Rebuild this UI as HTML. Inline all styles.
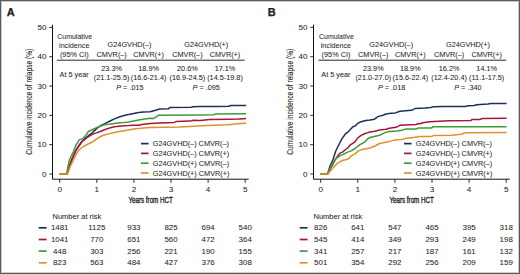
<!DOCTYPE html>
<html><head><meta charset="utf-8"><style>
html,body{margin:0;padding:0;background:#fff;}
body{width:520px;height:274px;overflow:hidden;position:relative;}
svg{position:absolute;left:0;top:0;font-family:"Liberation Sans",sans-serif;}
text{fill:#262626;}
.frame{position:absolute;left:0;top:0;width:520px;height:274px;box-sizing:border-box;border:1px solid #585858;box-shadow:inset 0 0 0 1px #cdcdcd;}
</style></head><body>
<svg width="520" height="274" viewBox="0 0 520 274">
<g transform="translate(0,0)">
<text x="6.8" y="15.9" font-size="11" font-weight="bold" fill="#000" stroke="#000" stroke-width="0.25">A</text>
<path d="M52.5 24.8 V179.2 H248.7" fill="none" stroke="#111" stroke-width="1"/>
<path d="M49.3 174.00 H52.5" stroke="#111" stroke-width="0.9"/>
<text x="46.40" y="176.60" text-anchor="end" font-size="8.1" stroke="#262626" stroke-width="0.05" >0</text>
<path d="M49.3 144.68 H52.5" stroke="#111" stroke-width="0.9"/>
<text x="46.40" y="147.28" text-anchor="end" font-size="8.1" stroke="#262626" stroke-width="0.05" >10</text>
<path d="M49.3 115.36 H52.5" stroke="#111" stroke-width="0.9"/>
<text x="46.40" y="117.96" text-anchor="end" font-size="8.1" stroke="#262626" stroke-width="0.05" >20</text>
<path d="M49.3 86.04 H52.5" stroke="#111" stroke-width="0.9"/>
<text x="46.40" y="88.64" text-anchor="end" font-size="8.1" stroke="#262626" stroke-width="0.05" >30</text>
<path d="M49.3 56.72 H52.5" stroke="#111" stroke-width="0.9"/>
<text x="46.40" y="59.32" text-anchor="end" font-size="8.1" stroke="#262626" stroke-width="0.05" >40</text>
<path d="M49.3 27.40 H52.5" stroke="#111" stroke-width="0.9"/>
<text x="46.40" y="30.00" text-anchor="end" font-size="8.1" stroke="#262626" stroke-width="0.05" >50</text>
<path d="M59.70 179.2 V182.8" stroke="#111" stroke-width="0.9"/>
<text x="59.70" y="191.80" text-anchor="middle" font-size="8.1" stroke="#262626" stroke-width="0.05" >0</text>
<path d="M96.80 179.2 V182.8" stroke="#111" stroke-width="0.9"/>
<text x="96.80" y="191.80" text-anchor="middle" font-size="8.1" stroke="#262626" stroke-width="0.05" >1</text>
<path d="M133.90 179.2 V182.8" stroke="#111" stroke-width="0.9"/>
<text x="133.90" y="191.80" text-anchor="middle" font-size="8.1" stroke="#262626" stroke-width="0.05" >2</text>
<path d="M171.00 179.2 V182.8" stroke="#111" stroke-width="0.9"/>
<text x="171.00" y="191.80" text-anchor="middle" font-size="8.1" stroke="#262626" stroke-width="0.05" >3</text>
<path d="M208.10 179.2 V182.8" stroke="#111" stroke-width="0.9"/>
<text x="208.10" y="191.80" text-anchor="middle" font-size="8.1" stroke="#262626" stroke-width="0.05" >4</text>
<path d="M245.20 179.2 V182.8" stroke="#111" stroke-width="0.9"/>
<text x="245.20" y="191.80" text-anchor="middle" font-size="8.1" stroke="#262626" stroke-width="0.05" >5</text>
<text transform="translate(150.6,202.9) scale(0.735,1)" text-anchor="middle" font-size="8.5" stroke="#222" stroke-width="0.35">Years from HCT</text>
<text transform="translate(32.2,101.7) rotate(-90) scale(0.80,1)" text-anchor="middle" font-size="8.3" stroke="#222" stroke-width="0.08">Cumulative incidence of relapse (%)</text>
<g transform="translate(0,0)">
<g transform="translate(74.7,0) scale(0.955,1)"><text x="0.00" y="39.50" text-anchor="middle" font-size="7.3" stroke="#262626" stroke-width="0.05" >Cumulative</text></g>
<g transform="translate(74.2,0) scale(0.985,1)"><text x="0.00" y="48.00" text-anchor="middle" font-size="7.3" stroke="#262626" stroke-width="0.05" >incidence</text></g>
<text x="74.30" y="56.60" text-anchor="middle" font-size="7.3" stroke="#262626" stroke-width="0.05" >(95% CI)</text>
<text x="129.50" y="46.60" text-anchor="middle" font-size="7.3" stroke="#262626" stroke-width="0.05" >G24GVHD(–)</text>
<text x="206.30" y="46.60" text-anchor="middle" font-size="7.3" stroke="#262626" stroke-width="0.05" >G24GVHD(+)</text>
<text x="111.60" y="56.60" text-anchor="middle" font-size="7.3" stroke="#262626" stroke-width="0.05" >CMVR(–)</text>
<text x="148.60" y="56.60" text-anchor="middle" font-size="7.3" stroke="#262626" stroke-width="0.05" >CMVR(+)</text>
<text x="187.40" y="56.60" text-anchor="middle" font-size="7.3" stroke="#262626" stroke-width="0.05" >CMVR(–)</text>
<text x="225.00" y="56.60" text-anchor="middle" font-size="7.3" stroke="#262626" stroke-width="0.05" >CMVR(+)</text>
<path d="M56.8 60.2 H244.6" stroke="#111" stroke-width="0.9"/>
<text x="74.20" y="76.50" text-anchor="middle" font-size="7.3" stroke="#262626" stroke-width="0.05" >At 5 year</text>
<text x="111.60" y="71.40" text-anchor="middle" font-size="7.3" stroke="#262626" stroke-width="0.05" >23.3%</text>
<text x="111.60" y="80.00" text-anchor="middle" font-size="7.3" stroke="#262626" stroke-width="0.05" >(21.1-25.5)</text>
<text x="148.60" y="71.40" text-anchor="middle" font-size="7.3" stroke="#262626" stroke-width="0.05" >18.9%</text>
<text x="148.60" y="80.00" text-anchor="middle" font-size="7.3" stroke="#262626" stroke-width="0.05" >(16.6-21.4)</text>
<text x="187.40" y="71.40" text-anchor="middle" font-size="7.3" stroke="#262626" stroke-width="0.05" >20.6%</text>
<text x="187.40" y="80.00" text-anchor="middle" font-size="7.3" stroke="#262626" stroke-width="0.05" >(16.9-24.5)</text>
<text x="225.00" y="71.40" text-anchor="middle" font-size="7.3" stroke="#262626" stroke-width="0.05" >17.1%</text>
<text x="225.00" y="80.00" text-anchor="middle" font-size="7.3" stroke="#262626" stroke-width="0.05" >(14.5-19.8)</text>
<text x="129.90" y="90.30" text-anchor="middle" font-size="7.3" stroke="#262626" stroke-width="0.05" ><tspan font-style="italic">P</tspan> = .015</text>
<text x="206.20" y="90.30" text-anchor="middle" font-size="7.3" stroke="#262626" stroke-width="0.05" ><tspan font-style="italic">P</tspan> = .095</text>
</g>
<path d="M59.7 174.0 L67.0 174.0 L69.5 165.5 L71.6 160.0 L75.8 150.3 L78.9 145.5 L82.0 141.3 L85.6 138.1 L88.9 135.3 L91.8 133.2 L96.0 129.1 L100.0 126.0 L104.8 123.6 L109.6 121.3 L114.4 118.9 L119.2 117.0 L124.0 115.5 L128.8 114.6 L133.7 113.5 L138.5 112.6 L143.3 112.1 L150.0 111.7 L154.8 110.5 L159.6 109.0 L168.3 108.8 L169.8 107.6 L191.7 107.3 L192.5 106.7 L200.0 106.5 L219.2 106.5 L228.8 106.2 L230.8 105.5 L246.2 105.5" fill="none" stroke="#1e3059" stroke-width="1.5" stroke-linejoin="round"/>
<path d="M59.7 174.0 L67.0 174.0 L69.5 166.0 L71.6 160.4 L75.8 150.8 L78.9 146.0 L82.0 141.8 L85.6 138.7 L88.9 136.3 L92.8 134.1 L96.6 132.9 L100.5 131.5 L104.3 129.8 L109.6 128.0 L114.4 126.7 L119.2 126.2 L124.0 125.7 L128.8 125.6 L133.7 125.2 L138.5 125.2 L143.3 124.2 L150.0 123.6 L159.6 122.9 L174.0 122.4 L176.0 121.6 L190.4 121.1 L193.3 120.3 L200.0 120.5 L202.9 120.2 L209.6 119.6 L228.8 119.2 L238.5 119.0 L243.3 118.7 L246.2 118.5" fill="none" stroke="#a8143a" stroke-width="1.5" stroke-linejoin="round"/>
<path d="M59.7 174.0 L66.5 174.0 L69.4 160.0 L73.5 151.5 L76.2 144.6 L79.3 139.9 L82.7 138.6 L85.6 135.7 L88.4 131.5 L92.8 129.5 L96.6 127.8 L100.5 126.0 L104.3 124.7 L109.6 124.2 L114.4 123.5 L119.2 122.8 L124.0 122.5 L128.8 122.0 L133.7 120.9 L138.5 119.9 L143.3 119.2 L150.0 118.3 L153.8 118.4 L155.8 117.2 L158.7 115.2 L200.0 114.9 L213.5 114.8 L215.9 113.9 L246.2 113.7" fill="none" stroke="#3d9a3a" stroke-width="1.5" stroke-linejoin="round"/>
<path d="M59.7 174.0 L67.5 174.0 L70.5 166.0 L73.2 160.5 L75.5 155.6 L77.5 151.8 L80.0 149.0 L83.5 146.5 L87.4 144.3 L91.2 142.7 L92.8 141.9 L96.6 138.9 L100.5 136.5 L104.3 135.0 L108.2 134.1 L111.5 133.1 L114.4 132.6 L119.2 131.6 L124.0 130.7 L128.8 130.0 L133.7 129.1 L138.5 128.5 L143.3 128.1 L150.0 127.6 L178.8 127.0 L190.4 126.4 L200.0 125.7 L228.8 124.8 L236.5 123.8 L246.2 123.3" fill="none" stroke="#e0902c" stroke-width="1.5" stroke-linejoin="round"/>
<path d="M141.0 143.6 H148.6" stroke="#1e3059" stroke-width="1.7"/>
<text x="152.80" y="146.20" text-anchor="start" font-size="7.3" stroke="#262626" stroke-width="0.05" >G24GVHD(–) CMVR(–)</text>
<path d="M141.0 153.4 H148.6" stroke="#a8143a" stroke-width="1.7"/>
<text x="152.80" y="156.00" text-anchor="start" font-size="7.3" stroke="#262626" stroke-width="0.05" >G24GVHD(–) CMVR(+)</text>
<path d="M141.0 163.2 H148.6" stroke="#3d9a3a" stroke-width="1.7"/>
<text x="152.80" y="165.80" text-anchor="start" font-size="7.3" stroke="#262626" stroke-width="0.05" >G24GVHD(+) CMVR(–)</text>
<path d="M141.0 173.0 H148.6" stroke="#e0902c" stroke-width="1.7"/>
<text x="152.80" y="175.60" text-anchor="start" font-size="7.3" stroke="#262626" stroke-width="0.05" >G24GVHD(+) CMVR(+)</text>
<text x="52.50" y="218.70" text-anchor="start" font-size="7.5" stroke="#262626" stroke-width="0.05" >Number at risk</text>
<path d="M38.7 227.8 H46.6" stroke="#1e3059" stroke-width="1.7"/>
<text x="59.70" y="230.30" text-anchor="middle" font-size="7.9" stroke="#262626" stroke-width="0.05" >1481</text>
<text x="96.80" y="230.30" text-anchor="middle" font-size="7.9" stroke="#262626" stroke-width="0.05" >1125</text>
<text x="133.90" y="230.30" text-anchor="middle" font-size="7.9" stroke="#262626" stroke-width="0.05" >933</text>
<text x="171.00" y="230.30" text-anchor="middle" font-size="7.9" stroke="#262626" stroke-width="0.05" >825</text>
<text x="208.10" y="230.30" text-anchor="middle" font-size="7.9" stroke="#262626" stroke-width="0.05" >694</text>
<text x="245.20" y="230.30" text-anchor="middle" font-size="7.9" stroke="#262626" stroke-width="0.05" >540</text>
<path d="M38.7 239.5 H46.6" stroke="#a8143a" stroke-width="1.7"/>
<text x="59.70" y="241.95" text-anchor="middle" font-size="7.9" stroke="#262626" stroke-width="0.05" >1041</text>
<text x="96.80" y="241.95" text-anchor="middle" font-size="7.9" stroke="#262626" stroke-width="0.05" >770</text>
<text x="133.90" y="241.95" text-anchor="middle" font-size="7.9" stroke="#262626" stroke-width="0.05" >651</text>
<text x="171.00" y="241.95" text-anchor="middle" font-size="7.9" stroke="#262626" stroke-width="0.05" >560</text>
<text x="208.10" y="241.95" text-anchor="middle" font-size="7.9" stroke="#262626" stroke-width="0.05" >472</text>
<text x="245.20" y="241.95" text-anchor="middle" font-size="7.9" stroke="#262626" stroke-width="0.05" >364</text>
<path d="M38.7 251.1 H46.6" stroke="#3d9a3a" stroke-width="1.7"/>
<text x="59.70" y="253.60" text-anchor="middle" font-size="7.9" stroke="#262626" stroke-width="0.05" >448</text>
<text x="96.80" y="253.60" text-anchor="middle" font-size="7.9" stroke="#262626" stroke-width="0.05" >303</text>
<text x="133.90" y="253.60" text-anchor="middle" font-size="7.9" stroke="#262626" stroke-width="0.05" >256</text>
<text x="171.00" y="253.60" text-anchor="middle" font-size="7.9" stroke="#262626" stroke-width="0.05" >221</text>
<text x="208.10" y="253.60" text-anchor="middle" font-size="7.9" stroke="#262626" stroke-width="0.05" >190</text>
<text x="245.20" y="253.60" text-anchor="middle" font-size="7.9" stroke="#262626" stroke-width="0.05" >155</text>
<path d="M38.7 262.8 H46.6" stroke="#e0902c" stroke-width="1.7"/>
<text x="59.70" y="265.25" text-anchor="middle" font-size="7.9" stroke="#262626" stroke-width="0.05" >823</text>
<text x="96.80" y="265.25" text-anchor="middle" font-size="7.9" stroke="#262626" stroke-width="0.05" >563</text>
<text x="133.90" y="265.25" text-anchor="middle" font-size="7.9" stroke="#262626" stroke-width="0.05" >484</text>
<text x="171.00" y="265.25" text-anchor="middle" font-size="7.9" stroke="#262626" stroke-width="0.05" >427</text>
<text x="208.10" y="265.25" text-anchor="middle" font-size="7.9" stroke="#262626" stroke-width="0.05" >376</text>
<text x="245.20" y="265.25" text-anchor="middle" font-size="7.9" stroke="#262626" stroke-width="0.05" >308</text>
</g>
<g transform="translate(261,0)">
<text x="6.8" y="15.9" font-size="11" font-weight="bold" fill="#000" stroke="#000" stroke-width="0.25">B</text>
<path d="M52.5 24.8 V179.2 H248.7" fill="none" stroke="#111" stroke-width="1"/>
<path d="M49.3 174.00 H52.5" stroke="#111" stroke-width="0.9"/>
<text x="46.40" y="176.60" text-anchor="end" font-size="8.1" stroke="#262626" stroke-width="0.05" >0</text>
<path d="M49.3 144.68 H52.5" stroke="#111" stroke-width="0.9"/>
<text x="46.40" y="147.28" text-anchor="end" font-size="8.1" stroke="#262626" stroke-width="0.05" >10</text>
<path d="M49.3 115.36 H52.5" stroke="#111" stroke-width="0.9"/>
<text x="46.40" y="117.96" text-anchor="end" font-size="8.1" stroke="#262626" stroke-width="0.05" >20</text>
<path d="M49.3 86.04 H52.5" stroke="#111" stroke-width="0.9"/>
<text x="46.40" y="88.64" text-anchor="end" font-size="8.1" stroke="#262626" stroke-width="0.05" >30</text>
<path d="M49.3 56.72 H52.5" stroke="#111" stroke-width="0.9"/>
<text x="46.40" y="59.32" text-anchor="end" font-size="8.1" stroke="#262626" stroke-width="0.05" >40</text>
<path d="M49.3 27.40 H52.5" stroke="#111" stroke-width="0.9"/>
<text x="46.40" y="30.00" text-anchor="end" font-size="8.1" stroke="#262626" stroke-width="0.05" >50</text>
<path d="M59.70 179.2 V182.8" stroke="#111" stroke-width="0.9"/>
<text x="59.70" y="191.80" text-anchor="middle" font-size="8.1" stroke="#262626" stroke-width="0.05" >0</text>
<path d="M96.80 179.2 V182.8" stroke="#111" stroke-width="0.9"/>
<text x="96.80" y="191.80" text-anchor="middle" font-size="8.1" stroke="#262626" stroke-width="0.05" >1</text>
<path d="M133.90 179.2 V182.8" stroke="#111" stroke-width="0.9"/>
<text x="133.90" y="191.80" text-anchor="middle" font-size="8.1" stroke="#262626" stroke-width="0.05" >2</text>
<path d="M171.00 179.2 V182.8" stroke="#111" stroke-width="0.9"/>
<text x="171.00" y="191.80" text-anchor="middle" font-size="8.1" stroke="#262626" stroke-width="0.05" >3</text>
<path d="M208.10 179.2 V182.8" stroke="#111" stroke-width="0.9"/>
<text x="208.10" y="191.80" text-anchor="middle" font-size="8.1" stroke="#262626" stroke-width="0.05" >4</text>
<path d="M245.20 179.2 V182.8" stroke="#111" stroke-width="0.9"/>
<text x="245.20" y="191.80" text-anchor="middle" font-size="8.1" stroke="#262626" stroke-width="0.05" >5</text>
<text transform="translate(150.6,202.9) scale(0.735,1)" text-anchor="middle" font-size="8.5" stroke="#222" stroke-width="0.35">Years from HCT</text>
<text transform="translate(32.2,101.7) rotate(-90) scale(0.80,1)" text-anchor="middle" font-size="8.3" stroke="#222" stroke-width="0.08">Cumulative incidence of relapse (%)</text>
<g transform="translate(0.7,0)">
<g transform="translate(74.7,0) scale(0.955,1)"><text x="0.00" y="39.50" text-anchor="middle" font-size="7.3" stroke="#262626" stroke-width="0.05" >Cumulative</text></g>
<g transform="translate(74.2,0) scale(0.985,1)"><text x="0.00" y="48.00" text-anchor="middle" font-size="7.3" stroke="#262626" stroke-width="0.05" >incidence</text></g>
<text x="74.30" y="56.60" text-anchor="middle" font-size="7.3" stroke="#262626" stroke-width="0.05" >(95% CI)</text>
<text x="129.50" y="46.60" text-anchor="middle" font-size="7.3" stroke="#262626" stroke-width="0.05" >G24GVHD(–)</text>
<text x="206.30" y="46.60" text-anchor="middle" font-size="7.3" stroke="#262626" stroke-width="0.05" >G24GVHD(+)</text>
<text x="111.60" y="56.60" text-anchor="middle" font-size="7.3" stroke="#262626" stroke-width="0.05" >CMVR(–)</text>
<text x="148.60" y="56.60" text-anchor="middle" font-size="7.3" stroke="#262626" stroke-width="0.05" >CMVR(+)</text>
<text x="187.40" y="56.60" text-anchor="middle" font-size="7.3" stroke="#262626" stroke-width="0.05" >CMVR(–)</text>
<text x="225.00" y="56.60" text-anchor="middle" font-size="7.3" stroke="#262626" stroke-width="0.05" >CMVR(+)</text>
<path d="M56.8 60.2 H244.6" stroke="#111" stroke-width="0.9"/>
<text x="74.20" y="76.50" text-anchor="middle" font-size="7.3" stroke="#262626" stroke-width="0.05" >At 5 year</text>
<text x="111.60" y="71.40" text-anchor="middle" font-size="7.3" stroke="#262626" stroke-width="0.05" >23.9%</text>
<text x="111.60" y="80.00" text-anchor="middle" font-size="7.3" stroke="#262626" stroke-width="0.05" >(21.0-27.0)</text>
<text x="148.60" y="71.40" text-anchor="middle" font-size="7.3" stroke="#262626" stroke-width="0.05" >18.9%</text>
<text x="148.60" y="80.00" text-anchor="middle" font-size="7.3" stroke="#262626" stroke-width="0.05" >(15.6-22.4)</text>
<text x="187.40" y="71.40" text-anchor="middle" font-size="7.3" stroke="#262626" stroke-width="0.05" >16.2%</text>
<text x="187.40" y="80.00" text-anchor="middle" font-size="7.3" stroke="#262626" stroke-width="0.05" >(12.4-20.4)</text>
<text x="225.00" y="71.40" text-anchor="middle" font-size="7.3" stroke="#262626" stroke-width="0.05" >14.1%</text>
<text x="225.00" y="80.00" text-anchor="middle" font-size="7.3" stroke="#262626" stroke-width="0.05" >(11.1-17.5)</text>
<text x="129.90" y="90.30" text-anchor="middle" font-size="7.3" stroke="#262626" stroke-width="0.05" ><tspan font-style="italic">P</tspan> = .018</text>
<text x="206.20" y="90.30" text-anchor="middle" font-size="7.3" stroke="#262626" stroke-width="0.05" ><tspan font-style="italic">P</tspan> = .340</text>
</g>
<path d="M59.7 174.0 L66.7 174.0 L69.0 166.0 L71.8 160.0 L74.8 151.0 L77.7 145.0 L81.0 138.6 L84.2 134.2 L87.4 131.6 L90.0 128.8 L91.9 126.8 L94.2 126.0 L95.8 124.2 L98.8 122.2 L101.9 121.3 L105.0 120.6 L109.0 120.1 L113.5 119.2 L115.5 117.6 L117.5 116.4 L122.0 115.2 L125.0 114.0 L129.8 113.3 L134.4 112.9 L139.0 111.3 L150.5 110.3 L154.4 108.4 L164.0 107.9 L169.8 107.4 L172.7 106.8 L182.3 106.6 L204.0 106.6 L207.5 105.8 L213.2 105.5 L215.5 104.7 L227.0 104.1 L230.0 103.5 L245.5 103.5" fill="none" stroke="#1e3059" stroke-width="1.5" stroke-linejoin="round"/>
<path d="M59.7 174.0 L66.5 174.0 L69.0 169.0 L72.3 163.3 L75.0 158.5 L77.4 155.2 L79.0 153.1 L81.5 152.1 L84.6 149.5 L86.7 148.0 L89.0 145.2 L94.0 141.8 L96.0 138.8 L99.6 135.6 L103.5 133.8 L107.0 132.6 L109.0 132.1 L113.8 131.3 L118.6 130.1 L125.3 129.2 L128.2 128.2 L135.0 127.3 L138.8 125.3 L155.2 124.5 L157.1 123.6 L159.0 123.8 L161.9 122.8 L168.6 121.7 L183.0 121.1 L189.0 120.8 L209.8 120.6 L210.9 119.6 L219.0 119.6 L221.3 118.5 L245.5 118.2" fill="none" stroke="#a8143a" stroke-width="1.5" stroke-linejoin="round"/>
<path d="M59.7 174.0 L66.5 174.0 L70.3 165.4 L74.4 159.2 L78.5 156.2 L82.6 154.1 L86.7 152.1 L90.7 150.6 L94.0 148.5 L99.0 144.7 L104.0 141.8 L107.0 138.5 L109.0 137.5 L118.6 135.3 L123.4 132.9 L128.2 131.5 L135.9 131.0 L140.7 130.2 L144.6 129.1 L155.8 128.9 L156.8 128.1 L170.8 128.0 L171.6 126.8 L245.5 126.7" fill="none" stroke="#3d9a3a" stroke-width="1.5" stroke-linejoin="round"/>
<path d="M59.7 174.0 L66.7 174.0 L68.2 172.5 L72.3 167.4 L76.4 163.3 L80.5 160.8 L84.6 159.8 L87.7 158.7 L89.7 156.2 L93.8 154.1 L96.9 151.1 L101.0 149.5 L109.0 148.0 L114.0 146.0 L118.6 143.5 L128.2 141.6 L133.0 140.1 L140.7 139.6 L145.5 138.3 L152.3 137.4 L159.0 136.6 L170.5 136.4 L172.5 135.6 L190.7 135.3 L200.3 134.3 L204.2 132.7 L245.5 132.5" fill="none" stroke="#e0902c" stroke-width="1.5" stroke-linejoin="round"/>
<path d="M143.0 143.6 H150.6" stroke="#1e3059" stroke-width="1.7"/>
<text x="154.80" y="146.20" text-anchor="start" font-size="7.3" stroke="#262626" stroke-width="0.05" >G24GVHD(–) CMVR(–)</text>
<path d="M143.0 153.4 H150.6" stroke="#a8143a" stroke-width="1.7"/>
<text x="154.80" y="156.00" text-anchor="start" font-size="7.3" stroke="#262626" stroke-width="0.05" >G24GVHD(–) CMVR(+)</text>
<path d="M143.0 163.2 H150.6" stroke="#3d9a3a" stroke-width="1.7"/>
<text x="154.80" y="165.80" text-anchor="start" font-size="7.3" stroke="#262626" stroke-width="0.05" >G24GVHD(+) CMVR(–)</text>
<path d="M143.0 173.0 H150.6" stroke="#e0902c" stroke-width="1.7"/>
<text x="154.80" y="175.60" text-anchor="start" font-size="7.3" stroke="#262626" stroke-width="0.05" >G24GVHD(+) CMVR(+)</text>
<text x="52.50" y="218.70" text-anchor="start" font-size="7.5" stroke="#262626" stroke-width="0.05" >Number at risk</text>
<path d="M38.7 227.8 H46.6" stroke="#1e3059" stroke-width="1.7"/>
<text x="59.70" y="230.30" text-anchor="middle" font-size="7.9" stroke="#262626" stroke-width="0.05" >826</text>
<text x="96.80" y="230.30" text-anchor="middle" font-size="7.9" stroke="#262626" stroke-width="0.05" >641</text>
<text x="133.90" y="230.30" text-anchor="middle" font-size="7.9" stroke="#262626" stroke-width="0.05" >547</text>
<text x="171.00" y="230.30" text-anchor="middle" font-size="7.9" stroke="#262626" stroke-width="0.05" >465</text>
<text x="208.10" y="230.30" text-anchor="middle" font-size="7.9" stroke="#262626" stroke-width="0.05" >395</text>
<text x="245.20" y="230.30" text-anchor="middle" font-size="7.9" stroke="#262626" stroke-width="0.05" >318</text>
<path d="M38.7 239.5 H46.6" stroke="#a8143a" stroke-width="1.7"/>
<text x="59.70" y="241.95" text-anchor="middle" font-size="7.9" stroke="#262626" stroke-width="0.05" >545</text>
<text x="96.80" y="241.95" text-anchor="middle" font-size="7.9" stroke="#262626" stroke-width="0.05" >414</text>
<text x="133.90" y="241.95" text-anchor="middle" font-size="7.9" stroke="#262626" stroke-width="0.05" >349</text>
<text x="171.00" y="241.95" text-anchor="middle" font-size="7.9" stroke="#262626" stroke-width="0.05" >293</text>
<text x="208.10" y="241.95" text-anchor="middle" font-size="7.9" stroke="#262626" stroke-width="0.05" >249</text>
<text x="245.20" y="241.95" text-anchor="middle" font-size="7.9" stroke="#262626" stroke-width="0.05" >198</text>
<path d="M38.7 251.1 H46.6" stroke="#3d9a3a" stroke-width="1.7"/>
<text x="59.70" y="253.60" text-anchor="middle" font-size="7.9" stroke="#262626" stroke-width="0.05" >341</text>
<text x="96.80" y="253.60" text-anchor="middle" font-size="7.9" stroke="#262626" stroke-width="0.05" >257</text>
<text x="133.90" y="253.60" text-anchor="middle" font-size="7.9" stroke="#262626" stroke-width="0.05" >217</text>
<text x="171.00" y="253.60" text-anchor="middle" font-size="7.9" stroke="#262626" stroke-width="0.05" >187</text>
<text x="208.10" y="253.60" text-anchor="middle" font-size="7.9" stroke="#262626" stroke-width="0.05" >161</text>
<text x="245.20" y="253.60" text-anchor="middle" font-size="7.9" stroke="#262626" stroke-width="0.05" >132</text>
<path d="M38.7 262.8 H46.6" stroke="#e0902c" stroke-width="1.7"/>
<text x="59.70" y="265.25" text-anchor="middle" font-size="7.9" stroke="#262626" stroke-width="0.05" >501</text>
<text x="96.80" y="265.25" text-anchor="middle" font-size="7.9" stroke="#262626" stroke-width="0.05" >354</text>
<text x="133.90" y="265.25" text-anchor="middle" font-size="7.9" stroke="#262626" stroke-width="0.05" >292</text>
<text x="171.00" y="265.25" text-anchor="middle" font-size="7.9" stroke="#262626" stroke-width="0.05" >256</text>
<text x="208.10" y="265.25" text-anchor="middle" font-size="7.9" stroke="#262626" stroke-width="0.05" >209</text>
<text x="245.20" y="265.25" text-anchor="middle" font-size="7.9" stroke="#262626" stroke-width="0.05" >159</text>
</g>
</svg>
<div class="frame"></div>
</body></html>
